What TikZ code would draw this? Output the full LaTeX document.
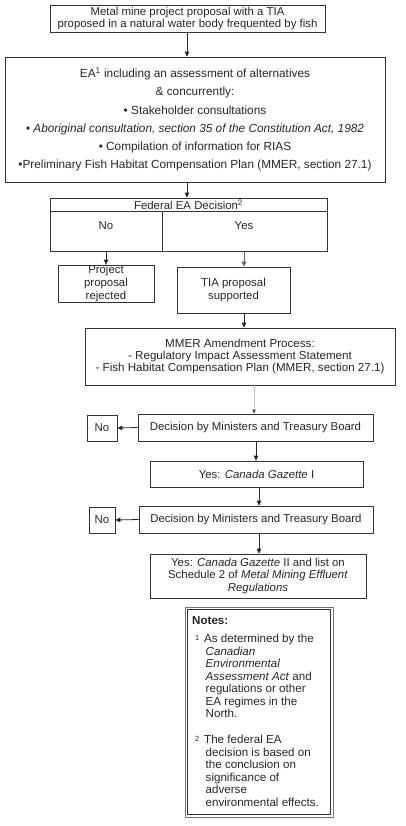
\documentclass[tikz,border=0pt]{standalone}
\usepackage{fontspec}
\setmainfont{Liberation Sans}
\usetikzlibrary{arrows.meta}
\tikzset{
  box/.style={draw=black!80, line width=0.7pt, inner sep=0pt, align=center, text=black!85},
  lbl/.style={inner sep=0pt, align=center, text=black!85},
  arr/.style={draw=black!85, line width=0.8pt, -{Triangle[length=5pt,width=4.5pt]}},
  fA/.style={font=\fontsize{11.4}{12.6}\selectfont},
  fB/.style={font=\fontsize{11.8}{18.2}\selectfont},
  fC/.style={font=\fontsize{11.6}{11.6}\selectfont},
  fN/.style={font=\fontsize{11.6}{12.5}\selectfont},
  fM/.style={font=\fontsize{7.5}{8}\selectfont},
}
\begin{document}
\begin{tikzpicture}[x=1pt,y=-1pt]
\useasboundingbox (0,0) rectangle (405,826);
% top box
\node[box,fA,minimum width=275pt,minimum height=27pt] (top) at (187.5,18.5)
  {Metal mine project proposal with a TIA\\proposed in a natural water body frequented by fish};
% EA box
\node[box,fB,minimum width=380pt,minimum height=125pt] (ea) at (195,119.5)
  {EA\textsuperscript{1} including an assessment of alternatives\\
   \& concurrently:\\
   \textbullet\ Stakeholder consultations\\
   \textit{\textbullet\ Aboriginal consultation, section 35 of the Constitution Act, 1982}\\
   \textbullet\ Compilation of information for RIAS\\
   \textbullet Preliminary Fish Habitat Compensation Plan (MMER, section 27.1)};
% federal decision
\node[box,minimum width=277pt,minimum height=53pt] (fed) at (188.5,224.5) {};
\coordinate (hl) at (50,211);
\coordinate (hr) at (327,211);
\draw[draw=black!80,line width=0.7pt] (hl) -- (hr);
\coordinate (dvt) at (162,211);
\draw[draw=black!80,line width=0.7pt] (dvt) -- (dvt |- fed.south);
\node[lbl,fA] (fedt) at (188.5,204.5) {Federal EA Decision\textsuperscript{2}};
\node[lbl,fA] (no0) at (106,226) {No};
\node[lbl,fA] (yes0) at (244,226) {Yes};
% project rejected
\node[box,fA,minimum width=96pt,minimum height=37pt] (rej) at (106,283.5)
  {Project\\proposal\\rejected};
% TIA supported
\node[box,fA,minimum width=113pt,minimum height=46pt] (tia) at (233.5,290)
  {TIA proposal\\supported};
% MMER
\node[box,fC,minimum width=310pt,minimum height=57pt] (mmer) at (240,356.5)
  {MMER Amendment Process:\\
   - Regulatory Impact Assessment Statement\\
   - Fish Habitat Compensation Plan (MMER, section 27.1)};
% decisions
\node[box,fA,minimum width=235pt,minimum height=27pt] (dec1) at (255.5,427.5)
  {Decision by Ministers and Treasury Board};
\node[box,fA,minimum width=30pt,minimum height=26pt] (no1) at (102,428) {No};
\node[box,fA,minimum width=213pt,minimum height=26pt] (gaz1) at (256.5,474)
  {Yes: \textit{Canada Gazette} I};
\node[box,fA,minimum width=234pt,minimum height=27pt] (dec2) at (256,519.5)
  {Decision by Ministers and Treasury Board};
\node[box,fA,minimum width=26pt,minimum height=26pt] (no2) at (102,520) {No};
\node[box,fA,minimum width=216pt,minimum height=44pt] (fin) at (258,576)
  {Yes: \textit{Canada Gazette} II and list on\\
   Schedule 2 of \textit{Metal Mining Effluent}\\
   \textit{Regulations}};
% notes frame (double line)
\coordinate (nA) at (185,607);
\coordinate (nB) at (333,817);
\coordinate (nC) at (187.5,609.5);
\coordinate (nD) at (330.5,814.5);
\draw[draw=black!55,line width=0.7pt] (nA) rectangle (nB);
\draw[draw=black!80,line width=0.7pt] (nC) rectangle (nD);
\node[lbl,fN,anchor=west] (nh) at (192,621) {\textbf{Notes:}};
\node[lbl,fM,anchor=north west] (m1) at (195,635) {1};
\node[lbl,fN,anchor=north west,align=left] (n1) at (204,634)
  {As determined by the\\
   \hspace*{1.5pt}\textit{Canadian}\\
   \hspace*{1.5pt}\textit{Environmental}\\
   \hspace*{1.5pt}\textit{Assessment Act} and\\
   \hspace*{1.5pt}regulations or other\\
   \hspace*{1.5pt}EA regimes in the\\
   \hspace*{1.5pt}North.};
\node[lbl,fM,anchor=north west] (m2) at (195,736) {2};
\node[lbl,fN,anchor=north west,align=left] (n2) at (204,735)
  {The federal EA\\
   \hspace*{1.5pt}decision is based on\\
   \hspace*{1.5pt}the conclusion on\\
   \hspace*{1.5pt}significance of\\
   \hspace*{1.5pt}adverse\\
   \hspace*{1.5pt}environmental effects.};
% connectors
\coordinate (cx1) at (187,0);
\coordinate (yx) at (244,0);
\coordinate (gx) at (254,0);
\coordinate (d1x) at (256,0);
\coordinate (d2x) at (259,0);
\draw[arr] (top.south -| cx1) -- (ea.north -| cx1);
\draw[arr] (ea.south -| cx1) -- (fed.north -| cx1);
\draw[arr] (rej.north |- fed.south) -- (rej.north);
\draw[arr,draw=black!60,line width=0.6pt] (fed.south -| yx) -- (tia.north -| yx);
\draw[arr] (tia.south -| yx) -- (mmer.north -| yx);
\draw[draw=black!25,line width=1pt,-{Triangle[length=4pt,width=3.5pt,color=black!70]}] (mmer.south -| gx) -- (dec1.north -| gx);
\draw[arr] (dec1.west) -- (no1.east);
\draw[arr] (dec1.south -| d1x) -- (gaz1.north -| d1x);
\draw[arr] (gaz1.south -| d2x) -- (dec2.north -| d2x);
\draw[arr] (dec2.west) -- (no2.east);
\draw[arr] (dec2.south -| d2x) -- (fin.north -| d2x);
\end{tikzpicture}
\end{document}
